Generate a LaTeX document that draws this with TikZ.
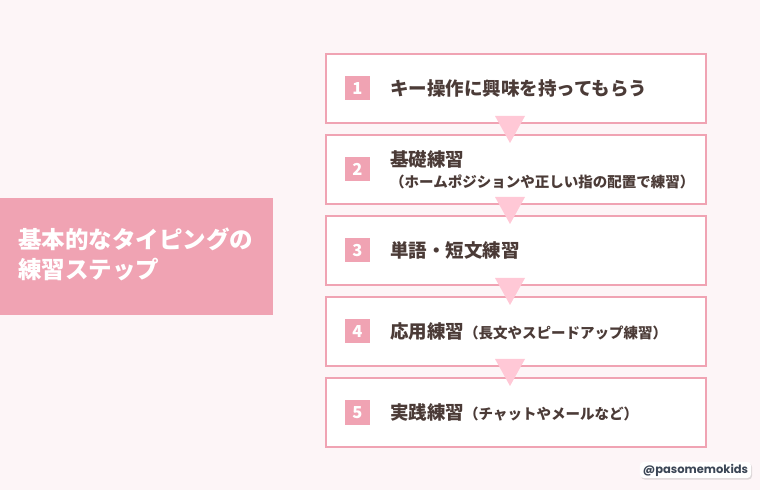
\documentclass[tikz,border=0pt]{standalone}
\usepackage{fontspec}
\setmainfont{Noto Sans CJK JP}
\newfontfamily\firmafont{Poppins}
\usepackage{tikz}
\usetikzlibrary{shapes, positioning, shadows}
\definecolor{rosa}{HTML}{F0A3B3}
\definecolor{rosaclaro}{HTML}{FFC8D6}
\definecolor{fondo}{HTML}{FDF5F7}
\definecolor{texto}{HTML}{4B3B37}
\definecolor{firma}{HTML}{3B4656}
\tikzstyle{paso} = [draw=rosa, fill=white, line width=2pt, rectangle, minimum width=380pt, minimum height=69pt, inner sep=0pt]
\tikzstyle{numero} = [fill=rosa, text=white, minimum width=25pt, minimum height=24pt, inner sep=0pt, font=\bfseries\fontsize{16.5}{16.5}\selectfont]
\tikzstyle{titulo} = [text=texto, anchor=west, inner sep=0pt, align=left, font=\bfseries\fontsize{18.5}{21}\selectfont]
\tikzstyle{flecha} = [fill=rosaclaro]
\newcommand{\chica}[1]{{\fontsize{14.5}{17}\selectfont #1}}

\begin{document}
\begin{tikzpicture}[x=1pt, y=1pt]
	\fill[fondo] (0,0) rectangle (760,490);
	\useasboundingbox (0,0) rectangle (760,490);
	% titulo de la izquierda
	\node [fill=rosa, minimum width=273pt, minimum height=117pt, inner sep=0pt] (cabecera) at (136.5,233.5) {};
	\node [text=white, anchor=west, align=left, inner sep=0pt, font=\bfseries\fontsize{23.5}{29.5}\selectfont] (cabeceratexto) at ([xshift=18pt,yshift=2pt]cabecera.west) {基本的なタイピングの\\練習ステップ};
	% pasos
	\node [paso] (paso1) at (516,401.5) {};
	\node [paso, below=10pt of paso1] (paso2) {};
	\node [paso, below=10pt of paso2] (paso3) {};
	\node [paso, below=10pt of paso3] (paso4) {};
	\node [paso, below=10pt of paso4] (paso5) {};
	\foreach \i/\j in {1/2, 2/3, 3/4, 4/5}
		\fill[flecha] ([xshift=-21pt,yshift=8pt]paso\i.south) -- ++(30pt,0) -- ++(-15pt,-27pt) -- cycle;
	\foreach \i in {1,...,5}
		\node [numero] (num\i) at ([xshift=32.5pt]paso\i.west) {\i};
	\node [titulo] (texto1) at ([xshift=65pt]paso1.west) {キー操作に興味を持ってもらう};
	\node [titulo] (texto2) at ([xshift=65pt]paso2.west) {基礎練習\\\chica{（ホームポジションや正しい指の配置で練習）}};
	\node [titulo] (texto3) at ([xshift=65pt]paso3.west) {単語・短文練習};
	\node [titulo] (texto4) at ([xshift=65pt]paso4.west) {応用練習\chica{（長文やスピードアップ練習）}};
	\node [titulo] (texto5) at ([xshift=65pt]paso5.west) {実践練習\chica{（チャットやメールなど）}};
	% firma
	\node [fill=white, rounded corners=4pt, drop shadow={opacity=0.25, shadow xshift=1pt, shadow yshift=-1.5pt}, text=firma, inner xsep=3pt, inner ysep=2pt, font=\firmafont\bfseries\fontsize{11.5}{12}\selectfont] (firma) at (695.5,20) {@pasomemokids};
\end{tikzpicture}
\end{document}
